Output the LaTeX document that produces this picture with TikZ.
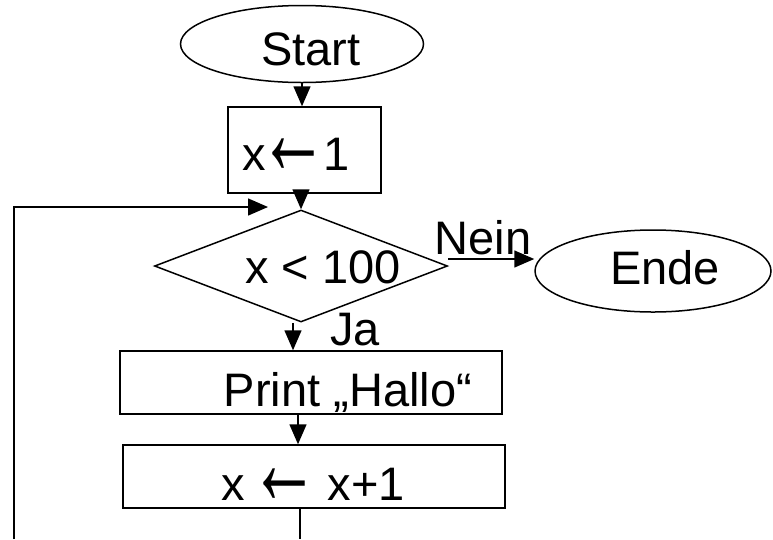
\documentclass[tikz,border=0pt]{standalone}
\usepackage{graphicx}
\usepackage{fontspec}
\setmainfont{Liberation Sans}
\usetikzlibrary{shapes.geometric,arrows.meta}

\newcommand{\getarrow}{\kern-8pt\raisebox{-4pt}{\scalebox{1}[1.8]{\fontsize{70}{70}\selectfont ←}}\kern-5pt}

\tikzset{
  box/.style={draw=black, line width=1.5pt, inner sep=0pt},
  arr/.style={line width=1.5pt, -{Triangle[length=20pt,width=17pt]}},
  txt/.style={inner sep=0pt, anchor=base, font=\fontsize{47}{56}\selectfont},
}

\begin{document}
\begin{tikzpicture}[x=1pt,y=-1pt]
\useasboundingbox (0,0) rectangle (773,539);
\node[box,ellipse,minimum width=243pt,minimum height=77pt] (start) at (302,44) {};
\node[box,rectangle,minimum width=153pt,minimum height=86pt] (init) at (304.5,150) {};
\node[box,diamond,minimum width=293pt,minimum height=112pt] (cond) at (301,266) {};
\node[box,ellipse,minimum width=236pt,minimum height=82pt] (ende) at (653,271) {};
\node[box,rectangle,minimum width=382pt,minimum height=63pt] (print) at (311,382.5) {};
\node[box,rectangle,minimum width=382pt,minimum height=63pt] (incr) at (314,476.5) {};
\node[txt] (tstart) at (311,65) {Start};
\node[txt] (tinit) at (296,170) {x\getarrow1};
\node[txt] (tcond) at (323,283) {x < 100};
\node[txt] (tende) at (665,284) {Ende};
\node[txt] (tprint) at (348,406) {Print „Hallo“};
\node[txt] (tincr) at (313,500) {x \getarrow\ x+1};
\node[txt] (nein) at (483,254) {Nein};
\node[txt] (ja) at (355,345) {Ja};
\coordinate (exit) at (300,539);
\coordinate (back) at (14,539);
\coordinate (into) at (268,207);
\draw[arr] (start.south) -- (start.south |- init.north);
\draw[arr] (cond.north |- init.south) -- (cond.north);
\draw[arr] ([yshift=7pt]cond.east) -- ([yshift=7pt]cond.east -| ende.west);
\draw[arr] ([xshift=-8pt]cond.south) -- ([xshift=-8pt]cond.south |- print.north);
\draw[arr] ([xshift=-13pt]print.south) -- ([xshift=-13pt]print.south |- incr.north);
\draw[line width=1.5pt] (incr.south -| exit) -- (exit);
\draw[arr] (back) |- (into);
\end{tikzpicture}
\end{document}
